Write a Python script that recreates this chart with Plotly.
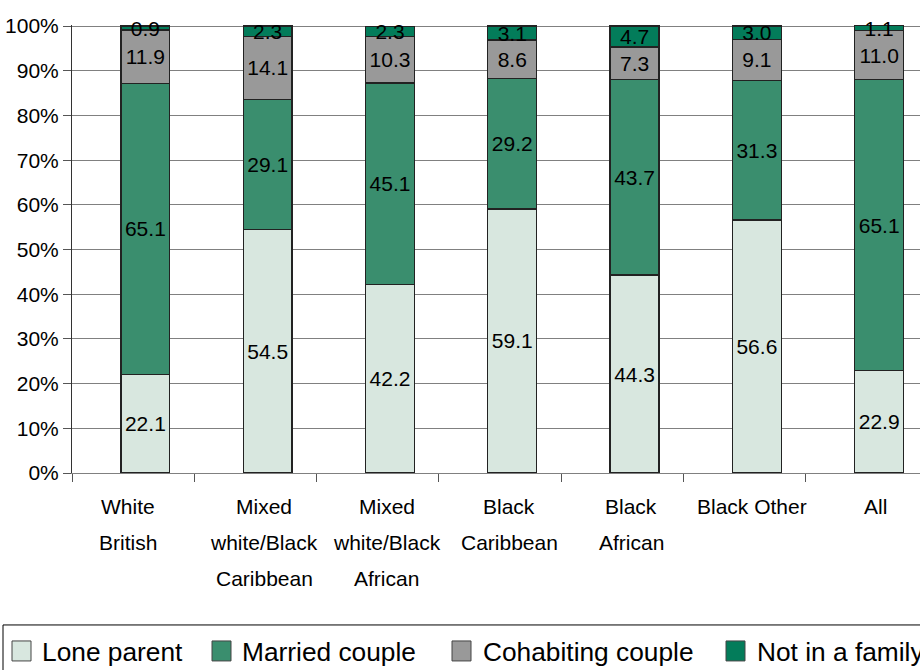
import plotly.graph_objects as go

# ---------------- data ----------------
categories = ["White British", "Mixed white/Black Caribbean", "Mixed white/Black African",
              "Black Caribbean", "Black African", "Black Other", "All"]
category_lines = [["White", "British"], ["Mixed", "white/Black", "Caribbean"],
                  ["Mixed", "white/Black", "African"], ["Black", "Caribbean"],
                  ["Black", "African"], ["Black Other"], ["All"]]
series_names = ["Lone parent", "Married couple", "Cohabiting couple", "Not in a family"]
lone_parent = [22.1, 54.5, 42.2, 59.1, 44.3, 56.6, 22.9]
married_couple = [65.1, 29.1, 45.1, 29.2, 43.7, 31.3, 65.1]
cohabiting_couple = [11.9, 14.1, 10.3, 8.6, 7.3, 9.1, 11.0]
not_in_family = [0.9, 2.3, 2.3, 3.1, 4.7, 3.0, 1.1]
y_ticks = [0, 10, 20, 30, 40, 50, 60, 70, 80, 90, 100]

# ---------------- style ----------------
colors = ["#D8E7DF", "#3A8E6E", "#999999", "#037C5A"]
FONT = "Liberation Sans, Arial, sans-serif"
W, H = 920, 670
Y_MAX = 100.25
L, R, B = 72, 920, 473
T = B - (B - 26) * Y_MAX / 100.0
label_xshift = [-5, 9, 9, 9, 9, 7, 9]

def xp(px):
    return (px - L) / (R - L)

def yp(py):
    return (B - py) / (B - T)

fig = go.Figure()
for name, vals, col in zip(series_names,
                           [lone_parent, married_couple, cohabiting_couple, not_in_family],
                           colors):
    fig.add_trace(go.Bar(
        x=categories, y=vals, name=name,
        marker=dict(color=col, line=dict(color="#222222", width=1.3)),
        width=0.4, offset=-0.1,
        text=[f"{v:.1f}" for v in vals],
        textposition="inside", insidetextanchor="middle",
        constraintext="none", textangle=0,
        textfont=dict(family=FONT, size=21, color="black"),
        insidetextfont=dict(family=FONT, size=21, color="black"),
        cliponaxis=False, showlegend=False,
    ))

annotations = []
# category labels
for cat, lines, xs in zip(categories, category_lines, label_xshift):
    for i, line in enumerate(lines):
        annotations.append(dict(
            x=cat, xref="x", y=yp(507 + 36 * i), yref="paper",
            text=line, showarrow=False, xanchor="center", yanchor="middle",
            xshift=xs, font=dict(family=FONT, size=21, color="black")))

# manual legend
shapes = [dict(type="rect", xref="paper", yref="paper",
               x0=xp(3), x1=xp(940), y0=yp(625), y1=yp(690),
               line=dict(color="black", width=1), fillcolor="rgba(0,0,0,0)", layer="above")]
sw_left = [12, 212, 452, 726]
txt_left = [40, 240, 481, 755]
for name, col, sx, tx in zip(series_names, colors, sw_left, txt_left):
    shapes.append(dict(type="rect", xref="paper", yref="paper",
                       x0=xp(sx), x1=xp(sx + 19), y0=yp(641), y1=yp(661),
                       line=dict(color="#444444", width=1), fillcolor=col, layer="above"))
    annotations.append(dict(x=xp(tx), xref="paper", y=yp(652), yref="paper",
                            text=name, showarrow=False, xanchor="left", yanchor="middle",
                            font=dict(family=FONT, size=26.3, color="black")))

fig.update_layout(
    width=W, height=H, barmode="stack",
    margin=dict(l=L, r=W - R, t=T, b=H - B, autoexpand=False),
    paper_bgcolor="white", plot_bgcolor="white",
    font=dict(family=FONT, size=21, color="black"),
    shapes=shapes, annotations=annotations, showlegend=False,
)
fig.update_xaxes(
    type="category", range=[-0.5, -0.5 + (R - L) / 122.3],
    showticklabels=False, ticks="outside", tickson="boundaries", ticklen=8,
    tickcolor="#555555", showline=True, linecolor="#808080", linewidth=1,
    showgrid=False, zeroline=False,
)
fig.update_yaxes(
    range=[0, Y_MAX], tickvals=y_ticks, ticktext=[f"{v}%" for v in y_ticks],
    ticks="outside", ticklen=8, tickcolor="#555555",
    showline=True, linecolor="#333333", linewidth=1,
    showgrid=True, gridcolor="#808080", gridwidth=1, zeroline=False,
    tickfont=dict(family=FONT, size=21, color="black"),
)

fig.write_html(
    "out.html",
    config={"displayModeBar": False},
    post_script="document.body.style.margin='0';document.body.style.overflow='hidden';",
)
